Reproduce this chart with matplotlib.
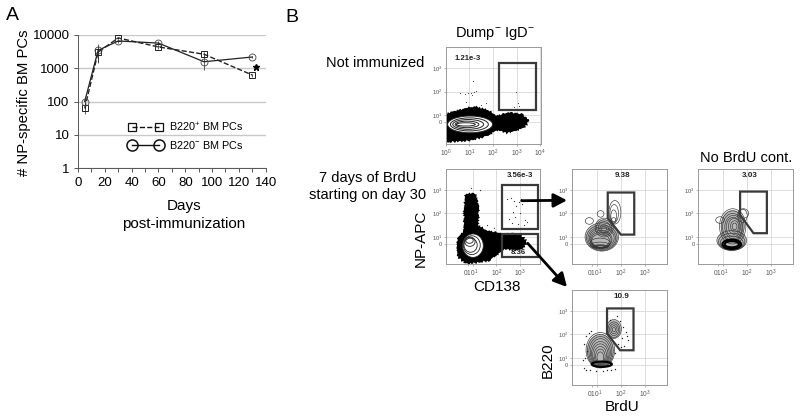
import matplotlib
matplotlib.use('Agg')
import matplotlib.pyplot as plt
from matplotlib.lines import Line2D
from matplotlib.patches import Ellipse, FancyArrowPatch, Polygon
from matplotlib.ticker import NullLocator

plt.rcParams['font.family'] = ['Liberation Sans', 'DejaVu Sans']
plt.rcParams['mathtext.fontset'] = 'custom'
plt.rcParams['mathtext.rm'] = 'Liberation Sans'
plt.rcParams['mathtext.default'] = 'regular'

W, H = 800, 419

# panel A
days = [5, 15, 30, 60, 94, 130]
pos_pcs = [62, 3000, 8000, 4300, 2600, 620]
pos_err = [20, 1500, 800, 600, 500, 60]
neg_pcs = [100, 3400, 6500, 5600, 1550, 2150]
neg_err = [40, 2000, 900, 700, 700, 200]
a_yticks = [1, 10, 100, 1000, 10000]
a_xticks = [0, 20, 40, 60, 80, 100, 120, 140]

# panel B: everything in decades of the biex axes
gate_1 = [(2.25, 3.24), (3.82, 3.24), (3.82, 1.2), (2.25, 1.2)]
blob_1 = [(0, 1.0), (.46, 1.14), (1.17, 1.33), (1.73, 1.19), (2.15, .93), (2.71, 1.07), (3.2, 1.0),
          (3.49, .76), (3.25, .47), (2.57, .29), (2.15, .43), (1.73, .14), (.89, -.07), (.04, -.1)]
rings_1 = [(1.03, .6, .95, .36), (1.0, .6, .8, .28), (.95, .6, .65, .21), (.9, .6, .5, .14), (.85, .6, .4, .07)]
dots_1_x = [1.15, 1.05, 1.2, .6, .8, .95, 1.1, 1.3, 2.95, 3.05, 3.1, 2.9, .85, 1.5, 1.7]
dots_1_y = [2.45, 1.95, 2.0, 1.95, 1.9, 1.95, 1.85, 2.05, 2.0, 1.5, 1.4, 1.35, 1.55, 1.45, 1.5]

gate_2a = [(2.25, 3.21), (3.78, 3.21), (3.78, 1.33), (2.25, 1.33)]
gate_2b = [(2.25, 1.13), (3.78, 1.13), (3.78, .14), (2.25, .14)]
blob_2 = [(.72, 2.8), (1.07, 2.8), (1.21, 2.3), (1.18, 1.45), (1.57, 1.24), (2.2, 1.1), (2.99, 1.1),
          (3.27, .74), (2.99, .49), (2.28, .53), (1.71, .04), (.72, -.11), (.4, .18), (.36, .89),
          (.65, 1.24), (.67, 2.16)]
rings_2 = [(1.0, .63, .44, .5), (.95, .65, .36, .4), (.9, .65, .28, .3), (.87, .8, .22, .2), (.85, .85, .16, .12)]
dots_2_x = [2.6, 2.75, 2.95, 3.05, 3.1, 2.85, 2.7, 3.0, 2.55, 3.2, 3.3, 2.65, 2.9, 3.15, 2.45, 2.8, 1.9, 1.6, 1.3, .9]
dots_2_y = [2.65, 2.55, 2.5, 2.6, 2.4, 2.3, 2.05, 2.0, 1.75, 1.7, 1.65, 1.6, 1.55, 1.5, 2.6, 1.85, 1.4, 1.5, 3.0, 3.1]

gate_3 = [(1.45, 2.89), (2.56, 2.89), (2.56, 1.1), (2.0, 1.1), (1.45, 1.8)]
body_3 = [(1.2, 1.0, .68, .58), (1.3, 1.35, .38, .4)]
rings_3 = [(1.2, 1.0, .7, .6), (1.2, .97, .64, .54), (1.2, .95, .58, .48), (1.2, .95, .52, .42), (1.17, .9, .46, .38),
           (1.17, .88, .42, .33), (1.15, .85, .37, .28), (1.13, .75, .42, .2), (1.13, .65, .4, .13),
           (1.13, .59, .35, .08), (1.13, .59, .28, .05), (1.13, .59, .22, .04),
           (1.3, 1.4, .38, .4), (1.3, 1.4, .32, .33), (1.3, 1.4, .25, .25), (1.3, 1.35, .18, .17), (1.3, 1.35, .11, .1),
           (1.75, 2.05, .25, .5), (1.72, 2.0, .18, .38), (1.7, 1.9, .12, .25), (1.7, 1.7, .1, .12),
           (1.15, 1.98, .14, .14), (.68, 1.68, .17, .14)]

gate_4 = [(1.7, 2.93), (2.82, 2.93), (2.82, 1.16), (2.26, 1.16), (1.7, 1.94)]
body_4 = [(1.39, 1.45, .5, .7), (1.35, .85, .6, .45)]
rings_4 = [(1.39, 1.45, .55, .75), (1.39, 1.45, .48, .66), (1.39, 1.42, .42, .58), (1.42, 1.42, .36, .5),
           (1.42, 1.42, .3, .42), (1.45, 1.45, .24, .34), (1.47, 1.45, .17, .24), (1.47, 1.45, .1, .14),
           (1.84, 2.0, .22, .2), (1.8, 1.9, .2, .28), (.86, 1.72, .18, .14),
           (1.35, .85, .62, .42), (1.35, .8, .55, .36), (1.35, .75, .48, .29)]
rings_4_thick = [(1.35, .69, .39, .2), (1.35, .69, .3, .13)]

gate_5 = [(1.42, 3.1), (2.53, 3.1), (2.53, 1.33), (1.97, 1.33), (1.42, 2.04)]
body_5 = [(1.14, 1.3, .58, .72), (1.71, 2.23, .29, .38)]
rings_5 = [(1.14, 1.33, .6, .75), (1.14, 1.3, .54, .7), (1.14, 1.27, .48, .64), (1.14, 1.24, .42, .58),
           (1.14, 1.2, .37, .5), (1.14, 1.16, .32, .44), (1.14, 1.12, .26, .37), (1.14, 1.08, .2, .3),
           (1.14, 1.04, .14, .22), (1.71, 2.23, .31, .4), (1.71, 2.2, .25, .33), (1.71, 2.2, .19, .25),
           (1.71, 2.2, .13, .17), (1.71, 2.2, .07, .09)]
rings_5_thick = [(1.2, .74, .42, .11)]
dots_5_x = [.55, .65, .75, .45, .6, .5, .4, .45, .55, 1.4, 1.55, 1.95, 2.1, 2.2, 2.05, 2.3, 2.15, 2.0, 1.9, 2.25, 1.75, 1.4, .7, .95, 1.25, 1.6, 1.75, 1.85]
dots_5_y = [1.95, 2.05, 2.15, 1.6, 1.3, 1.0, .9, .6, .5, 2.7, 2.6, 2.55, 2.3, 2.1, 1.85, 1.75, 1.5, 1.45, 1.6, 1.95, 1.2, .5, .5, .45, .45, .5, .55, 2.8]


def px_axes(left, right, top, bottom):
    return fig.add_axes([left / W, 1 - bottom / H, (right - left) / W, (bottom - top) / H])


def px_text(x, y, s, **kw):
    kw.setdefault('ha', 'center')
    kw.setdefault('va', 'center')
    fig.text(x / W, 1 - y / H, s, **kw)


def flow_axes(left, right, top, bottom, xlim, ylim, xticks, xlabels, yticks, ylabels, xminor=()):
    ax = px_axes(left, right, top, bottom)
    ax.set_xlim(*xlim)
    ax.set_ylim(*ylim)
    ax.set_xticks(xticks, xlabels, fontsize=4.8, color='#555555')
    ax.set_yticks(yticks, ylabels, fontsize=4.2, color='#555555')
    ax.tick_params(length=1.5, width=.4, color='#777777', pad=1)
    ax.grid(True, color='#d8d8d8', lw=.6)
    # the merged "0 10^1" label sits between its two ticks, only 10^1 keeps a grid line
    if len(xminor):
        ax.set_xticks(xminor, minor=True)
        ax.tick_params(which='minor', length=1.5, width=.4, color='#777777')
        ax.get_xgridlines()[0].set_visible(False)
        ax.xaxis.get_major_ticks()[0].tick1line.set_visible(False)
        ax.axvline(1, color='#d8d8d8', lw=.6, zorder=.5)
    ax.set_axisbelow(True)
    for s in ax.spines.values():
        s.set_color('#999999')
        s.set_linewidth(.7)
    return ax


def gate(ax, pts):
    ax.add_patch(Polygon(pts, closed=True, fill=False, ec='#3a3a3a', lw=1.6, zorder=6))


def blob(ax, pts):
    p = Polygon(pts, closed=True, fc='black', ec='black', lw=1.4, zorder=2)
    p.set_sketch_params(scale=1.0, length=3, randomness=2)
    ax.add_patch(p)


def rings(ax, items, color='#333333', lw=.5, zorder=3):
    for cx, cy, rx, ry in items:
        ax.add_patch(Ellipse((cx, cy), 2 * rx, 2 * ry, fill=False, ec=color, lw=lw, zorder=zorder))


def fills(ax, items, color='#b8b8b8'):
    for cx, cy, rx, ry in items:
        ax.add_patch(Ellipse((cx, cy), 2 * rx, 2 * ry, fc=color, ec='none', zorder=2))


fig = plt.figure(figsize=(W / 100, H / 100), dpi=100)

# A
ax = px_axes(78, 265.7, 34.7, 168.3)
ax.set_yscale('log')
ax.set_xlim(0, 140)
ax.set_ylim(1, 10000)
ax.grid(True, axis='y', color='#c8c8c8', lw=1.0)
ax.set_axisbelow(True)
ax.errorbar(days, pos_pcs, yerr=pos_err, color='#222222', ls='--', lw=1.0, marker='s', ms=4.8,
            mfc='none', mec='#222222', mew=.7, elinewidth=.5)
ax.errorbar(days, neg_pcs, yerr=neg_err, color='#222222', ls='-', lw=.9, marker='o', ms=5,
            mfc='none', mec='#444444', mew=.6, elinewidth=.5)
ax.plot([132.8], [1100], marker='*', ms=4.5, color='black', ls='none', clip_on=False)
ax.set_xticks(a_xticks)
ax.set_xticks(range(10, 140, 20), minor=True)
ax.set_yticks(a_yticks, [str(t) for t in a_yticks])
ax.yaxis.set_minor_locator(NullLocator())
ax.tick_params(labelsize=9.5, length=3, width=.7, color='#555555', pad=3)
ax.tick_params(which='minor', length=3, width=.7, color='#555555')
ax.spines['top'].set_visible(False)
ax.spines['right'].set_visible(False)
for s in ['left', 'bottom']:
    ax.spines[s].set_color('#555555')
    ax.spines[s].set_linewidth(.7)
h_pos = Line2D([], [], color='#111111', ls='--', lw=1.0, marker='s', ms=5.2, mfc='none', mew=.9)
h_neg = Line2D([], [], color='#111111', ls='-', lw=1.0, marker='o', ms=8, mfc='none', mew=1.1)
ax.legend([h_pos, h_neg], ['B220$^{+}$ BM PCs', 'B220$^{-}$ BM PCs'], numpoints=2, frameon=False,
          fontsize=7.8, handlelength=3.1, handletextpad=.68, labelspacing=.48, borderpad=0,
          loc='lower left', bbox_to_anchor=(.24, .09))

px_text(12, 16, 'A', fontsize=14)
px_text(292, 18, 'B', fontsize=14)
px_text(24, 103, '# NP-specific BM PCs', fontsize=10.7, rotation=90)
px_text(184, 206, 'Days', fontsize=11)
px_text(184, 224, 'post-immunization', fontsize=11)

# B text
px_text(495, 34, 'Dump$^{-}$ IgD$^{-}$', fontsize=10.5)
px_text(375, 63, 'Not immunized', fontsize=10.5)
px_text(368, 178, '7 days of BrdU', fontsize=10.5)
px_text(368, 195, 'starting on day 30', fontsize=10.5)
px_text(421, 238, 'NP-APC', fontsize=11, rotation=90)
px_text(497, 287, 'CD138', fontsize=11)
px_text(746, 158, 'No BrdU cont.', fontsize=10.5)
px_text(548, 360, 'B220', fontsize=11, rotation=90)
px_text(622, 407, 'BrdU', fontsize=11)

# B flow panels
dec_labels = ['$10^{1}$', '$10^{2}$', '$10^{3}$']
biex_ticks = [.89, 2, 3]
biex_labels = ['0$10^{1}$', '$10^{2}$', '$10^{3}$']
biex_minor = [.79, 1]

ax1 = flow_axes(445.7, 540.7, 46.7, 144, (0, 4.01), (-.24, 3.93), [0, 1, 2, 3, 4],
                ['$10^{0}$', '$10^{1}$', '$10^{2}$', '$10^{3}$', '$10^{4}$'],
                [.69, 1, 2, 3], ['0'] + dec_labels)
blob(ax1, blob_1)
ax1.add_patch(Ellipse((1.03, .6), 1.9, .72, fc='white', ec='none', zorder=3))
rings(ax1, rings_1, color='#222222', lw=.7, zorder=4)
ax1.scatter(dots_1_x, dots_1_y, s=.6, c='#333333', lw=0, zorder=3)
gate(ax1, gate_1)
ax1.text(.93, 3.44, '1.21e-3', fontsize=5.6, fontweight='bold', ha='center', va='center', color='#222222')

ax2 = flow_axes(445.7, 540, 169, 264, (-.16, 3.85), (-.15, 3.89), biex_ticks, biex_labels,
                [.7, 1, 2, 3], ['0'] + dec_labels, biex_minor)
blob(ax2, blob_2)
ax2.add_patch(Ellipse((1.0, .63), .88, 1.0, fc='white', ec='none', zorder=3))
rings(ax2, rings_2, color='#222222', lw=.6, zorder=4)
ax2.scatter(dots_2_x, dots_2_y, s=.8, c='#333333', lw=0, zorder=3)
gate(ax2, gate_2a)
gate(ax2, gate_2b)
ax2.text(2.98, 3.62, '3.56e-3', fontsize=5.6, fontweight='bold', ha='center', va='center', color='#222222')
ax2.text(2.91, .33, '8.36', fontsize=5.6, fontweight='bold', ha='center', va='center', color='#222222', zorder=7)

ax3 = flow_axes(571.7, 666.7, 169, 264, (-.06, 3.92), (-.15, 3.89), biex_ticks, biex_labels,
                [.7, 1, 2, 3], ['0'] + dec_labels, biex_minor)
fills(ax3, body_3)
rings(ax3, rings_3, lw=.45)
gate(ax3, gate_3)
ax3.text(2.05, 3.6, '9.38', fontsize=5.8, fontweight='bold', ha='center', va='center', color='#222222')

ax4 = flow_axes(698, 792.7, 169, 264, (-.06, 3.9), (-.15, 3.89), biex_ticks, biex_labels,
                [.7, 1, 2, 3], ['0'] + dec_labels, biex_minor)
fills(ax4, body_4)
rings(ax4, rings_4, lw=.45)
rings(ax4, rings_4_thick, color='black', lw=1.5, zorder=4)
gate(ax4, gate_4)
ax4.text(2.1, 3.62, '3.03', fontsize=5.8, fontweight='bold', ha='center', va='center', color='#222222')

ax5 = flow_axes(571.7, 666.7, 290, 385, (-.06, 3.92), (-.14, 3.88), biex_ticks, biex_labels,
                [.72, 1, 2, 3], ['0'] + dec_labels, biex_minor)
fills(ax5, body_5)
rings(ax5, rings_5, lw=.45)
rings(ax5, rings_5_thick, color='black', lw=1.6, zorder=4)
ax5.scatter(dots_5_x, dots_5_y, s=1.0, c='#222222', lw=0, zorder=3)
gate(ax5, gate_5)
ax5.text(2.0, 3.6, '10.9', fontsize=5.8, fontweight='bold', ha='center', va='center', color='#222222')

# arrows
for start, end in [((521.7, 200.7), (567, 200.3)), ((527.7, 243.3), (567, 287))]:
    fig.add_artist(FancyArrowPatch(
        (start[0] / W, 1 - start[1] / H), (end[0] / W, 1 - end[1] / H), transform=fig.transFigure,
        arrowstyle='-|>,head_length=5,head_width=2.6', color='black', lw=2.0, mutation_scale=1.6,
        shrinkA=0, shrinkB=0, zorder=10))

fig.savefig('out.png', dpi=100)
